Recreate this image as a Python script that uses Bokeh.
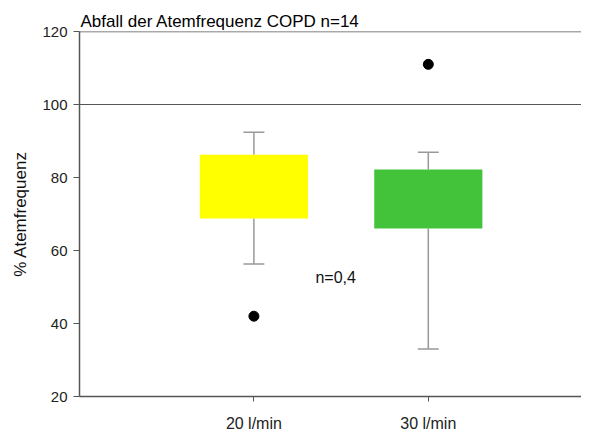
from bokeh.plotting import figure
from bokeh.models import Span, FixedTicker, ColumnDataSource
from bokeh.embed import file_html
from bokeh.resources import INLINE
from bokeh.core.properties import value

# ---- data ----
categories = ["20 l/min", "30 l/min"]
q1 = [68.8, 66.0]
q3 = [86.2, 82.2]
lower = [56.3, 33.0]
upper = [92.4, 86.9]
outlier_cat = ["20 l/min", "30 l/min"]
outlier_val = [42.0, 111.0]
y_ticks = [20, 40, 60, 80, 100, 120]
title_text = "Abfall der Atemfrequenz COPD n=14"
y_label = "% Atemfrequenz"
note_text = "n=0,4"

FONT = "Liberation Sans"

xpos = [i + 1 for i in range(len(categories))]
box_w = 0.62
cap_w = 0.12

W, H = 581, 434
p = figure(width=W, height=H, x_range=(0, (W - 79) / 174.4), y_range=(20, 120),
           output_backend="svg", toolbar_location=None,
           min_border_left=79, min_border_top=31, min_border_bottom=H - 398, min_border_right=0)
p.outline_line_color = None
p.grid.visible = False
p.background_fill_color = "white"
p.border_fill_color = "white"

p.title.text = title_text
p.title.text_font = FONT
p.title.text_font_size = "17px"
p.title.text_font_style = "normal"
p.title.text_color = "black"
p.title.align = "left"
p.title.standoff = 1
p.title.offset = 1

src = ColumnDataSource(dict(x=xpos, q1=q1, q3=q3, lower=lower, upper=upper,
                            color=["#FFFF00", "#42C33A"],
                            cl=[x - cap_w / 2 for x in xpos], cr=[x + cap_w / 2 for x in xpos]))

# whiskers
wc = "#999999"
p.segment(x0="x", y0="q3", x1="x", y1="upper", source=src, line_color=wc, line_width=1.5)
p.segment(x0="x", y0="lower", x1="x", y1="q1", source=src, line_color=wc, line_width=1.5)
p.segment(x0="cl", y0="upper", x1="cr", y1="upper", source=src, line_color=wc, line_width=1.5)
p.segment(x0="cl", y0="lower", x1="cr", y1="lower", source=src, line_color=wc, line_width=1.5)

# boxes
p.vbar(x="x", width=box_w, bottom="q1", top="q3", source=src,
       fill_color="color", line_color=None)

# outliers
ox = [categories.index(c) + 1 for c in outlier_cat]
p.scatter(ox, outlier_val, size=10, color="black")

# reference lines
p.add_layout(Span(location=100, dimension="width", line_color="#555555", line_width=1))
p.add_layout(Span(location=120, dimension="width", line_color="#555555", line_width=1.5))

# annotation
p.text(x=[1.353], y=[52.7], text=[note_text], text_font=value(FONT),
       text_font_size="16px", text_baseline="middle", text_align="left", text_color="#111111")

# axes
for ax in (p.xaxis[0], p.yaxis[0]):
    ax.axis_line_color = "#555555"
    ax.axis_line_width = 1.5
    ax.major_tick_line_color = "#555555"
    ax.major_tick_out = 6
    ax.major_tick_in = 0
    ax.minor_tick_line_color = None
    ax.major_label_text_font = FONT
    ax.major_label_text_color = "#222222"

p.yaxis.major_label_text_font_size = "15px"
p.xaxis.major_label_text_font_size = "16px"

p.yaxis.ticker = FixedTicker(ticks=y_ticks)
p.yaxis.axis_label = y_label
p.yaxis.axis_label_text_font = FONT
p.yaxis.axis_label_text_font_size = "17px"
p.yaxis.axis_label_text_font_style = "normal"
p.yaxis.axis_label_text_color = "#111111"
p.yaxis.axis_label_standoff = 9
p.yaxis.major_label_standoff = 6

p.xaxis.ticker = FixedTicker(ticks=xpos)
p.xaxis.major_label_overrides = {x: c for x, c in zip(xpos, categories)}
p.xaxis.major_tick_out = 5
p.xaxis.major_label_standoff = 13

open("out.html", "w").write(file_html(p, INLINE))
